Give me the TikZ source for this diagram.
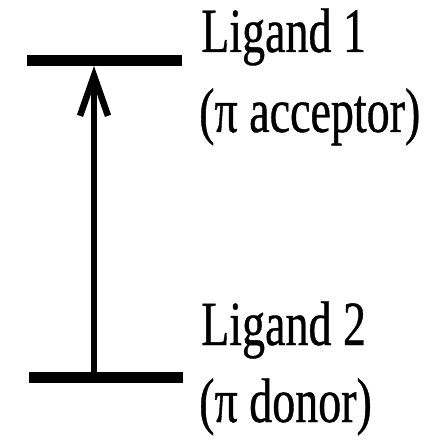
\documentclass[tikz,border=0pt]{standalone}
\usepackage{fontspec}
\usetikzlibrary{arrows.meta}
\newfontfamily\labfont[FakeStretch=0.73,FakeBold=0.6]{Liberation Serif}
\begin{document}
\begin{tikzpicture}[x=1pt,y=-1pt,
  level/.style={line width=11pt},
  trans/.style={line width=6.5pt,-{Straight Barb[length=40pt,width=28pt]}},
  lab/.style={anchor=base west,inner sep=0pt,font=\labfont\fontsize{63}{70}\selectfont}]
\useasboundingbox (0,0) rectangle (439,443);
\coordinate (u1) at (27,61);
\coordinate (u2) at (182,61);
\coordinate (d1) at (29,377.5);
\coordinate (d2) at (183,377.5);
\coordinate (a0) at (94,377.5);
\coordinate (a1) at (94,66);
\draw[level] (u1) -- (u2);
\draw[level] (d1) -- (d2);
\draw[trans] (a0) -- (a1);
\node[lab] (l1) at (201,52) {Ligand 1};
\node[lab] (l2) at (199,132) {(π acceptor)};
\node[lab] (l3) at (201,345) {Ligand 2};
\node[lab] (l4) at (199,422) {(π donor)};
\end{tikzpicture}
\end{document}
